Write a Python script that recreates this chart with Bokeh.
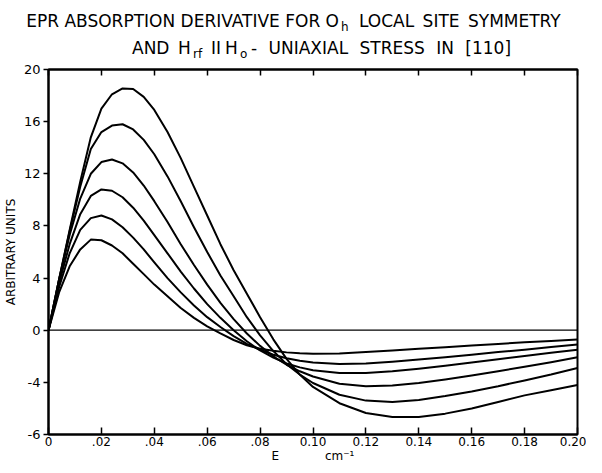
from bokeh.plotting import figure
from bokeh.layouts import column
from bokeh.models import Span, FixedTicker, LinearAxis, Range1d, Div
from bokeh.embed import file_html
from bokeh.resources import INLINE

# ---------------- data ----------------
energy = [0, .004, .008, .012, .016, .020, .024, .028, .032, .036, .040,
          .045, .050, .055, .060, .065, .070, .075, .080, .085, .090, .095,
          .100, .110, .120, .130, .140, .150, .160, .170, .180, .190, .200]

curve_1 = [0, 2.9, 4.9, 6.2, 6.95, 6.9, 6.5, 5.9, 5.1, 4.3, 3.5,
           2.6, 1.7, 0.95, 0.3, -0.25, -0.75, -1.15, -1.42, -1.58, -1.7, -1.77,
           -1.8, -1.78, -1.68, -1.55, -1.42, -1.3, -1.17, -1.05, -0.93, -0.82, -0.71]
curve_2 = [0, 3.3, 5.9, 7.7, 8.6, 8.8, 8.5, 7.9, 7.1, 6.2, 5.2,
           4.0, 2.9, 1.9, 1.0, 0.25, -0.45, -1.05, -1.5, -1.88, -2.15, -2.35,
           -2.48, -2.6, -2.55, -2.42, -2.25, -2.07, -1.88, -1.68, -1.49, -1.29, -1.1]
curve_3 = [0, 3.6, 6.6, 8.9, 10.3, 10.8, 10.7, 10.2, 9.4, 8.4, 7.3,
           5.9, 4.5, 3.2, 2.0, 0.95, 0.0, -0.85, -1.55, -2.1, -2.55, -2.85,
           -3.07, -3.28, -3.28, -3.15, -2.95, -2.72, -2.48, -2.22, -1.97, -1.73, -1.5]
curve_4 = [0, 3.9, 7.3, 10.1, 12.0, 12.9, 13.1, 12.8, 12.1, 11.1, 9.9,
           8.3, 6.6, 5.0, 3.5, 2.1, 0.85, -0.25, -1.2, -2.0, -2.65, -3.15,
           -3.55, -4.1, -4.3, -4.25, -4.05, -3.78, -3.47, -3.15, -2.8, -2.45, -2.08]
curve_5 = [0, 3.9, 7.6, 11.0, 13.9, 15.2, 15.7, 15.8, 15.4, 14.6, 13.5,
           11.8, 9.9, 7.9, 6.0, 4.2, 2.6, 1.0, -0.4, -1.6, -2.6, -3.4,
           -4.05, -4.95, -5.4, -5.5, -5.35, -5.05, -4.7, -4.3, -3.85, -3.4, -2.9]
curve_6 = [0, 3.9, 7.7, 11.4, 14.8, 17.0, 18.1, 18.55, 18.5, 17.9, 16.9,
           15.2, 13.2, 11.0, 8.8, 6.6, 4.6, 2.8, 1.0, -0.7, -2.2, -3.4,
           -4.35, -5.6, -6.35, -6.65, -6.65, -6.4, -6.0, -5.5, -5.0, -4.6, -4.2]
curves = [curve_1, curve_2, curve_3, curve_4, curve_5, curve_6]

x_ticks = [0, 0.02, 0.04, 0.06, 0.08, 0.10, 0.12, 0.14, 0.16, 0.18, 0.20]
x_tick_labels = ["0", ".02", ".04", ".06", ".08", "0.10", "0.12", "0.14", "0.16", "0.18", "0.20"]
y_ticks = [-8, -4, 0, 4, 8, 12, 16, 20]
y_tick_labels = ["-6", "-4", "0", "4", "8", "12", "16", "20"]

NB = "\u00a0"
x_title = "E" + NB * 12 + "cm\u207b\u00b9"
y_title = "ARBITRARY UNITS"

FONT = "DejaVu Sans"

# ---------------- layout sizes ----------------
W = 586
TITLE_H = 60
MAIN_H = 465 - TITLE_H
PAGE_X = 8   # horizontal page offset
PAGE_Y = 0   # vertical page offset observed

# ---------------- title (HTML with real subscripts) ----------------
BIG = 17
SMALL = 12


def span(txt, size, X, baseline, anchor="left", extra=""):
    top = baseline - PAGE_Y - 0.846 * size
    x = X - PAGE_X
    if anchor == "left":
        pos = f"left:{x:.1f}px;"
    else:
        pos = f"right:{W - x:.1f}px;"
    return (f'<span style="position:absolute;{pos}top:{top:.1f}px;'
            f'font-size:{size}px;line-height:{size}px;white-space:pre;{extra}">{txt}</span>')

pieces = [
    ("EPR ABSORPTION DERIVATIVE FOR O", BIG, 347, 27, "right", ""),
    ("h", SMALL, 349, 31, "left", ""),
    ("LOCAL SITE SYMMETRY", BIG, 367, 27, "left", "word-spacing:3px;"),
    ("AND", BIG, 140, 54, "left", ""),
    ("H", BIG, 186, 54, "left", ""),
    ("rf", SMALL, 201, 58, "left", ""),
    ("II", BIG, 219, 54, "left", ""),
    ("H", BIG, 233, 54, "left", ""),
    ("o", SMALL, 248, 58, "left", ""),
    ("- UNIAXIAL STRESS IN [110]", BIG, 259, 54, "left", "word-spacing:6px;"),
]
html = (f'<div style="position:relative;width:{W}px;height:{TITLE_H}px;'
        f"font-family:'{FONT}';color:#000;\">"
        + "".join(span(*pc) for pc in pieces) + "</div>")
title_div = Div(text=html, width=W, height=TITLE_H, margin=(0, 0, 0, 0))

# ---------------- main plot ----------------
p = figure(width=W, height=MAIN_H, output_backend="svg", toolbar_location=None,
           x_range=Range1d(0, 0.2), y_range=Range1d(-8, 20),
           min_border_left=40, min_border_right=9,
           min_border_top=9, min_border_bottom=29,
           background_fill_color="white", border_fill_color="white",
           margin=(0, 0, 0, 0))
p.xgrid.visible = False
p.ygrid.visible = False
p.outline_line_color = "black"
p.outline_line_width = 2

xa = p.xaxis[0]
xa.ticker = FixedTicker(ticks=x_ticks)
xa.major_label_overrides = {tk: s for tk, s in zip(x_ticks, x_tick_labels)}
xa.major_tick_in = 7
xa.major_tick_out = 0
xa.minor_tick_line_color = None
xa.axis_line_width = 2
xa.major_tick_line_width = 1.5
xa.major_label_text_font = FONT
xa.major_label_text_font_size = "12px"
xa.major_label_text_color = "black"
xa.major_label_standoff = 2
xa.axis_label = x_title
xa.axis_label_text_font = FONT
xa.axis_label_text_font_size = "12px"
xa.axis_label_text_font_style = "normal"
xa.axis_label_text_color = "black"
xa.axis_label_standoff = 0

ya = p.yaxis[0]
ya.ticker = FixedTicker(ticks=y_ticks)
ya.major_label_overrides = {tk: s for tk, s in zip(y_ticks, y_tick_labels)}
ya.major_tick_in = 0
ya.major_tick_out = 5
ya.minor_tick_line_color = None
ya.axis_line_width = 2
ya.major_tick_line_width = 1.5
ya.major_label_text_font = FONT
ya.major_label_text_font_size = "13px"
ya.major_label_text_color = "black"
ya.major_label_standoff = 3
ya.axis_label = y_title
ya.axis_label_text_font = FONT
ya.axis_label_text_font_size = "12px"
ya.axis_label_text_font_style = "normal"
ya.axis_label_text_color = "black"
ya.axis_label_standoff = 3

top_ax = LinearAxis(ticker=FixedTicker(ticks=x_ticks),
                    major_label_overrides={tk: "" for tk in x_ticks},
                    major_label_text_font_size="6px",
                    major_tick_in=6, major_tick_out=0, minor_tick_line_color=None,
                    axis_line_width=2, major_tick_line_width=1.5, major_label_standoff=0)
p.add_layout(top_ax, "above")

p.add_layout(Span(location=0, dimension="width", line_color="black", line_width=1.2))

for c in curves:
    p.line(energy, c, line_color="black", line_width=2, line_join="round")

layout = column(title_div, p, spacing=0)
open("out.html", "w").write(file_html(layout, INLINE))
